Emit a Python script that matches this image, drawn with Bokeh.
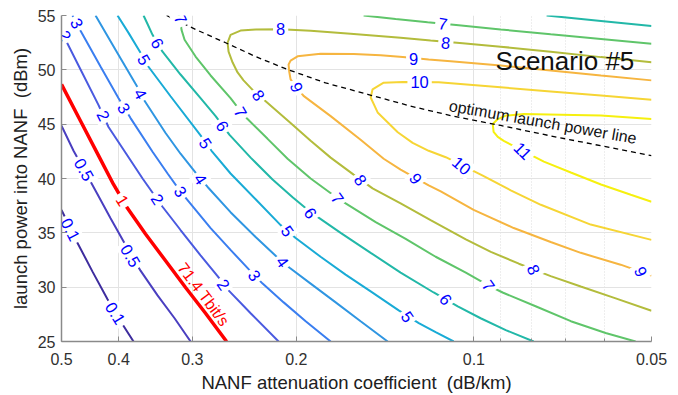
from bokeh.plotting import figure
from bokeh.models import Range1d, FixedTicker, ColumnDataSource
from bokeh.core.properties import value
from bokeh.embed import file_html
from bokeh.resources import INLINE

# ---------------- data (attenuation dB/km, launch power dBm) ----------------
att_0p1 = [0.5, 0.4697, 0.4430, 0.4178, 0.3971, 0.3775]
pow_0p1 = [37.11, 34.07, 31.43, 28.88, 26.87, 25.0]

att_0p5 = [0.5, 0.4771, 0.4571, 0.4361, 0.4129, 0.3894, 0.3673, 0.3437, 0.3216, 0.3021]
pow_0p5 = [44.86, 42.55, 40.73, 38.72, 36.35, 33.89, 31.52, 29.24, 27.14, 25.0]

att_1 = [0.5, 0.4642, 0.4327, 0.4081, 0.3864, 0.3602, 0.3331, 0.3081, 0.2850, 0.2625]
pow_1 = [48.66, 45.29, 42.10, 39.45, 37.26, 34.89, 32.43, 29.97, 27.60, 25.0]

att_2 = [0.5, 0.4642, 0.4327, 0.4162, 0.3894, 0.3644, 0.3371, 0.3142, 0.2906, 0.2719, 0.2605, 0.2390, 0.2143]
pow_2 = [53.50, 50.03, 46.75, 44.74, 42.37, 40.00, 37.40, 35.26, 32.93, 31.02, 29.70, 27.60, 25.0]

att_3 = [0.4790, 0.4642, 0.4294, 0.4002, 0.3819, 0.3505, 0.3305, 0.3142, 0.2794, 0.2585, 0.2409, 0.2281, 0.2101, 0.1928, 0.1749]
pow_3 = [55.0, 53.59, 50.30, 47.39, 45.56, 42.46, 40.46, 38.79, 35.44, 33.43, 31.66, 30.33, 28.60, 26.87, 25.0]

att_4 = [0.4378, 0.4050, 0.3716, 0.3630, 0.3331, 0.3142, 0.2963, 0.2827, 0.2585, 0.2344, 0.2168, 0.2053, 0.1891, 0.1715, 0.1556, 0.1400]
pow_4 = [55.0, 51.85, 48.39, 47.29, 44.19, 42.28, 40.55, 39.22, 36.90, 34.62, 32.89, 31.79, 30.33, 28.60, 26.87, 25.0]

att_5 = [0.4018, 0.3849, 0.3673, 0.3574, 0.3267, 0.2906, 0.2784, 0.2585, 0.2344, 0.2126, 0.2005, 0.1819, 0.1650, 0.1496, 0.1341, 0.1240, 0.1161, 0.1082]
pow_5 = [55.0, 53.40, 51.58, 50.40, 47.57, 43.97, 42.55, 40.46, 38.09, 35.71, 34.53, 32.80, 31.16, 29.61, 27.87, 26.69, 25.87, 25.0]

att_6a = [0.3630, 0.3574, 0.3505, 0.3371, 0.3142, 0.2906, 0.2740, 0.2595, 0.2390, 0.2194, 0.2029, 0.1891, 0.1682, 0.1496, 0.1331, 0.1170, 0.1065, 0.0974, 0.0883, 0.0792]
pow_6a = [55.0, 54.22, 53.22, 51.67, 49.57, 47.39, 45.74, 44.01, 41.92, 39.91, 38.27, 36.90, 34.99, 33.16, 31.34, 29.51, 28.24, 27.14, 26.05, 25.0]
att_6b = [0.0753, 0.0609, 0.05]
pow_6b = [55.0, 54.50, 54.04]

att_7a = [0.3166, 0.3142, 0.3130, 0.3093, 0.2963, 0.2794, 0.2585, 0.2486, 0.2419, 0.2237, 0.2069, 0.1891, 0.1702, 0.1467, 0.1305, 0.1161, 0.1032, 0.0944, 0.0894, 0.0786, 0.0685, 0.0598, 0.0532]
pow_7a = [55.0, 54.41, 53.68, 52.77, 51.22, 49.48, 47.39, 46.20, 45.47, 43.65, 41.82, 40.00, 38.18, 35.99, 34.44, 32.80, 31.34, 30.15, 29.51, 28.24, 26.87, 25.78, 25.0]
att_7b = [0.1538, 0.1357, 0.1198, 0.1061, 0.0901, 0.0741, 0.0609, 0.05]
pow_7b = [55.0, 54.68, 54.38, 54.11, 53.72, 53.27, 52.84, 52.40]

att_8 = [0.05, 0.0609, 0.0741, 0.0901, 0.1045, 0.1184, 0.1331, 0.1618, 0.1891, 0.2126, 0.2344, 0.2486,
         0.2585, 0.2615, 0.2605, 0.2564, 0.2515, 0.2457, 0.2372, 0.2254, 0.2045, 0.1891, 0.1749, 0.1599,
         0.1485, 0.1331, 0.1184, 0.1032, 0.0936, 0.0839, 0.0741, 0.0659, 0.0575, 0.05]
pow_8 = [50.70, 51.17, 51.67, 52.13, 52.45, 52.70, 52.95, 53.31, 53.59, 53.74, 53.71, 53.61,
         53.22, 52.49, 51.67, 50.67, 49.76, 49.03, 48.16, 47.11, 45.11, 43.47, 41.92, 40.36,
         39.09, 37.72, 36.17, 34.39, 33.25, 32.16, 31.02, 30.06, 28.97, 27.83]

att_9 = [0.05, 0.0609, 0.0741, 0.0901, 0.1095, 0.1193, 0.1320, 0.1439, 0.1599, 0.1819, 0.1990, 0.2045,
         0.2061, 0.2056, 0.2045, 0.1944, 0.1749, 0.1556, 0.1422, 0.1331, 0.1193, 0.1138, 0.1001, 0.0856,
         0.0741, 0.0659, 0.0564, 0.05]
pow_9 = [49.03, 49.48, 49.94, 50.40, 50.79, 50.94, 51.19, 51.35, 51.46, 51.49, 51.24, 50.85,
         50.49, 49.85, 49.12, 47.60, 45.74, 43.56, 41.82, 40.82, 39.36, 38.81, 37.11, 35.44,
         34.16, 33.16, 32.07, 31.06]

att_10 = [0.05, 0.0609, 0.0741, 0.0901, 0.1147, 0.1320, 0.1422, 0.1485, 0.1496, 0.1456, 0.1346, 0.1270,
          0.1193, 0.1116, 0.0966, 0.0866, 0.0770, 0.0634, 0.05]
pow_10 = [47.25, 47.63, 48.01, 48.39, 48.85, 48.87, 48.82, 48.21, 47.45, 46.08, 44.26, 43.28,
          42.55, 41.96, 40.27, 38.91, 37.58, 35.76, 34.35]

att_11 = [0.05, 0.0609, 0.0677, 0.0823, 0.0883, 0.0911, 0.0929, 0.0926, 0.0911, 0.0890, 0.0826, 0.0761,
          0.0685, 0.0609, 0.0542, 0.05]
pow_11 = [45.47, 45.79, 45.84, 45.93, 45.79, 45.47, 45.02, 44.29, 43.83, 43.47, 42.55, 41.55,
          40.55, 39.45, 38.50, 37.86]

att_opt = [0.3318, 0.2963, 0.2635, 0.2344, 0.2069, 0.1784, 0.1514, 0.1280, 0.1095, 0.0901, 0.0741, 0.0609, 0.05]
pow_opt = [55.0, 53.72, 52.49, 51.22, 50.03, 48.80, 47.75, 46.66, 45.79, 44.88, 43.92, 43.01, 42.10]

# contour labels
lab_text = ["0.1", "0.1", "0.5", "0.5", "2", "2", "2", "2", "3", "3", "3", "3", "4", "4", "4",
            "5", "5", "5", "5", "6", "6", "6", "6", "7", "7", "7", "7", "7",
            "8", "8", "8", "8", "8", "9", "9", "9", "9", "10", "10", "11"]
lab_att = [0.4827, 0.4050, 0.4579, 0.3819, 0.4935, 0.4244, 0.3437, 0.2656, 0.4706, 0.3917, 0.3142, 0.2353,
           0.3673, 0.2906, 0.2110, 0.3623, 0.2850, 0.2069, 0.1295, 0.3437, 0.2667, 0.1891, 0.1116,
           0.3142, 0.2486, 0.1702, 0.0944, 0.1129,
           0.1116, 0.2126, 0.2317, 0.1556, 0.0792, 0.1265, 0.1997, 0.1255, 0.0521, 0.1236, 0.1049, 0.0826]
lab_pow = [35.30, 27.60, 40.82, 32.89, 53.15, 45.79, 38.09, 30.24, 54.27, 46.47, 38.79, 31.06,
           47.80, 39.95, 32.34, 50.94, 43.24, 35.17, 27.28, 52.45, 44.83, 36.81, 28.88,
           54.68, 46.11, 38.18, 30.15, 54.24,
           52.49, 53.77, 47.66, 39.86, 31.61, 51.03, 48.39, 40.00, 31.43, 48.85, 41.19, 42.55]
lab_angle = [-63, -58, -61, -60, -63, -63, -58, -55, -63, -60, -57, -55, -61, -57, -55,
             -60, -58, -55, -55, -62, -60, -55, -52, -65, -60, -55, -55, -8,
             -6, 0, -55, -55, -65, 0, -70, -55, -65, 0, -40, -45]

red_label_att = [0.3940]
red_label_pow = [37.99]
total_att = [0.2872]
total_pow = [29.33]

x_ticks = [0.05, 0.1, 0.2, 0.3, 0.4, 0.5]
x_minor = [0.06, 0.07, 0.08, 0.09]
y_ticks = [25, 30, 35, 40, 45, 50, 55]

# ---------------- figure ----------------
p = figure(width=678, height=395, x_axis_type="log",
           x_range=Range1d(0.5, 0.05), y_range=Range1d(25, 55),
           output_backend="svg", toolbar_location=None,
           min_border_left=61, min_border_right=27, min_border_top=15, min_border_bottom=50)
p.outline_line_color = None
p.background_fill_color = "white"
p.border_fill_color = "white"

p.xaxis.ticker = FixedTicker(ticks=x_ticks, minor_ticks=x_minor)
p.yaxis.ticker = FixedTicker(ticks=y_ticks, minor_ticks=[])
p.xaxis.major_label_overrides = {t: ("%g" % t) for t in x_ticks}

for ax in (p.xaxis[0], p.yaxis[0]):
    ax.axis_line_color = "#8a8a8a"
    ax.axis_line_width = 1.5
    ax.major_tick_line_color = "#8a8a8a"
    ax.minor_tick_line_color = "#8a8a8a"
    ax.major_tick_in = 5
    ax.major_tick_out = 0
    ax.minor_tick_in = 3
    ax.minor_tick_out = 0
    ax.major_label_text_font = "Liberation Sans"
    ax.major_label_text_font_size = "16px"
    ax.major_label_text_color = "#303030"
    ax.axis_label_text_font = "Liberation Sans"
    ax.axis_label_text_font_size = "18.5px"
    ax.axis_label_text_font_style = "normal"
    ax.axis_label_text_color = "#202020"

p.xaxis.axis_label = "NANF attenuation coefficient \u00a0(dB/km)"
p.yaxis.axis_label = "launch power into NANF \u00a0(dBm)"
p.xaxis.major_label_standoff = 11
p.xaxis.axis_label_standoff = 4
p.yaxis.major_label_standoff = 6
p.yaxis.axis_label_standoff = 4

p.xgrid.grid_line_color = "#e3e3e3"
p.ygrid.grid_line_color = "#e3e3e3"
p.xgrid.minor_grid_line_color = "#dcdcdc"
p.xgrid.minor_grid_line_dash = "1 2"

# contour lines
curves = [
    (att_0p1, pow_0p1, "#3e2d9e", 2),
    (att_0p5, pow_0p5, "#4a3fc0", 2),
    (att_2, pow_2, "#4a5ae0", 2),
    (att_3, pow_3, "#3a7ef0", 2),
    (att_4, pow_4, "#2f96e2", 2),
    (att_5, pow_5, "#19abd6", 2),
    (att_6a, pow_6a, "#22b8a8", 2),
    (att_6b, pow_6b, "#22b8a8", 2),
    (att_7a, pow_7a, "#5fc56a", 2),
    (att_7b, pow_7b, "#5fc56a", 2),
    (att_8, pow_8, "#b3bc3c", 2),
    (att_9, pow_9, "#f6b540", 2),
    (att_10, pow_10, "#f6d535", 2),
    (att_11, pow_11, "#f6f00f", 2),
]
for xs, ys, col, w in curves:
    p.line(xs, ys, line_color=col, line_width=w)

p.line(att_1, pow_1, line_color="#ff0000", line_width=3.5)

p.line(att_opt, pow_opt, line_color="black", line_width=1.3, line_dash="5 4")

src = ColumnDataSource(dict(x=lab_att, y=lab_pow, t=lab_text, a=lab_angle))
p.text(x="x", y="y", text="t", angle="a", angle_units="deg", source=src,
       text_font=value("Liberation Sans"), text_font_size="16.5px", text_color="#0000ff",
       text_align="center", text_baseline="middle",
       background_fill_color="white", padding=3)

p.text(x=red_label_att, y=red_label_pow, text=["1"], angle=-58, angle_units="deg",
       text_font=value("Liberation Sans"), text_font_size="16.5px", text_color="#ff0000",
       text_align="center", text_baseline="middle",
       background_fill_color="white", padding=3)

p.text(x=total_att, y=total_pow, text=["71.4 Tbit/s"], angle=-53, angle_units="deg",
       text_font=value("Liberation Sans"), text_font_size="16px", text_color="#ff0000",
       text_align="center", text_baseline="middle")

p.text(x=[0.0764], y=[45.20], text=["optimum launch power line"], angle=-10, angle_units="deg",
       text_font=value("Liberation Sans"), text_font_size="16px", text_color="#111111",
       text_align="center", text_baseline="middle")

p.text(x=[0.0701], y=[50.85], text=["Scenario #5"],
       text_font=value("Liberation Sans"), text_font_size="26px", text_color="#111111",
       text_align="center", text_baseline="middle")

open("out.html", "w").write(file_html(p, INLINE))
